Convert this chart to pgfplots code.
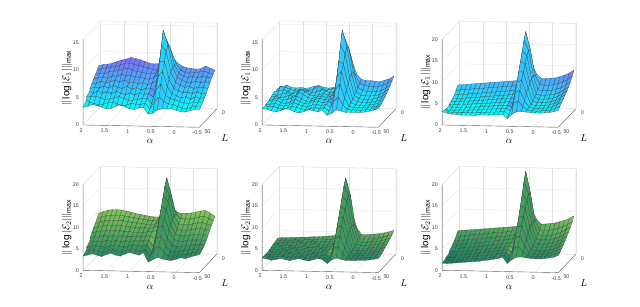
\documentclass[border=0pt]{standalone}
\usepackage{pgfplots}
\pgfplotsset{compat=1.18}
\usepackage{pgfplotstable}
\usepackage{fontspec}
\setmainfont{Liberation Sans}
\definecolor{axd}{gray}{0.4}
\definecolor{axl}{gray}{0.88}
\pgfplotsset{
  colormap={cl}{rgb255=(0,255,255); rgb255=(140,90,255)},
  colormap={gr}{rgb255=(20,125,100); rgb255=(135,205,85)},
}
\newcommand{\addxy}[1]{%
 \pgfplotstablecreatecol[expr={2-0.1*mod(\pgfplotstablerow,26)}]{x}#1%
 \pgfplotstablecreatecol[expr={5+5*floor(\pgfplotstablerow/26)}]{y}#1%
}
\pgfplotstableread[row sep=\\]{z\\%
7.8\\8.0\\8.1\\8.3\\8.6\\8.9\\9.1\\9.4\\9.2\\9.0\\8.7\\8.4\\8.3\\8.4\\9.2\\10.0\\9.5\\8.5\\8.0\\7.7\\7.6\\7.5\\7.6\\8.1\\7.7\\7.4\\%
7.2\\7.6\\7.7\\7.9\\8.0\\8.3\\8.6\\8.7\\8.5\\8.3\\8.0\\7.9\\7.6\\7.6\\8.6\\12.0\\11.0\\8.8\\7.6\\7.2\\7.1\\7.2\\7.3\\7.5\\7.2\\7.0\\%
6.8\\7.1\\7.0\\7.4\\7.5\\7.7\\7.9\\8.1\\7.7\\7.5\\7.4\\7.2\\7.3\\7.2\\8.2\\14.0\\12.2\\8.8\\7.4\\6.8\\6.6\\6.9\\6.6\\6.9\\6.7\\6.6\\%
6.3\\6.6\\6.7\\6.5\\7.0\\6.9\\7.3\\7.0\\7.1\\6.8\\6.9\\6.6\\6.5\\6.8\\7.6\\15.5\\12.8\\8.8\\7.0\\6.4\\6.1\\6.0\\6.3\\6.0\\6.3\\6.0\\%
5.8\\5.9\\6.3\\6.0\\6.3\\6.5\\6.2\\6.6\\6.1\\6.3\\6.0\\6.2\\5.8\\6.2\\6.6\\13.0\\12.0\\8.2\\6.4\\5.8\\5.5\\5.7\\5.3\\5.6\\5.5\\5.4\\%
5.3\\5.5\\5.4\\5.8\\5.4\\5.9\\5.6\\5.4\\5.8\\5.3\\5.6\\5.2\\5.5\\5.6\\5.2\\10.5\\10.5\\7.2\\5.6\\5.2\\4.8\\5.0\\4.7\\5.1\\4.7\\4.8\\%
4.9\\4.7\\5.2\\4.8\\5.1\\4.7\\5.2\\4.9\\4.6\\5.0\\4.6\\5.0\\4.7\\5.0\\4.2\\8.0\\9.0\\6.2\\5.0\\4.6\\4.2\\4.5\\4.0\\4.5\\4.2\\4.4\\%
4.4\\4.5\\4.6\\4.3\\4.0\\4.1\\4.4\\4.6\\4.3\\3.9\\4.0\\4.2\\4.3\\4.4\\3.4\\6.0\\7.0\\5.0\\4.4\\4.2\\3.9\\3.7\\3.6\\3.8\\3.9\\3.9\\%
3.9\\3.8\\3.6\\3.3\\3.5\\3.8\\3.9\\3.6\\3.3\\3.4\\3.8\\3.6\\3.5\\3.9\\2.8\\4.2\\5.0\\4.2\\3.8\\3.7\\3.3\\3.1\\3.0\\3.3\\3.5\\3.5\\%
3.2\\3.4\\3.7\\3.6\\3.3\\3.0\\3.1\\3.5\\3.8\\3.5\\3.1\\3.0\\3.3\\3.4\\2.2\\2.4\\3.0\\3.2\\3.2\\3.3\\3.0\\2.8\\2.7\\3.0\\3.2\\3.2\\%
}\tA
\pgfplotstableread[row sep=\\]{z\\%
3.6\\3.9\\4.3\\3.9\\3.8\\3.9\\3.8\\3.9\\4.2\\4.3\\4.0\\3.9\\4.0\\4.3\\5.0\\9.5\\9.0\\6.5\\5.6\\5.4\\5.4\\5.3\\5.2\\5.5\\5.8\\6.3\\%
3.5\\4.4\\4.2\\3.9\\3.6\\3.8\\4.0\\3.7\\3.9\\4.6\\4.0\\3.8\\4.1\\4.2\\5.0\\12.0\\10.5\\6.8\\5.2\\4.8\\4.7\\4.6\\4.7\\4.9\\5.3\\5.9\\%
3.7\\3.9\\4.1\\3.8\\3.4\\3.8\\4.2\\4.0\\3.6\\3.8\\4.2\\4.0\\3.7\\4.0\\4.8\\14.0\\12.0\\7.5\\4.8\\4.2\\4.1\\4.0\\4.1\\4.3\\4.7\\5.4\\%
3.6\\3.4\\3.6\\3.9\\3.6\\3.3\\4.5\\4.2\\3.6\\3.5\\3.7\\3.9\\3.6\\3.9\\4.6\\15.5\\12.5\\7.6\\4.4\\3.7\\3.6\\3.6\\3.7\\3.9\\4.3\\5.0\\%
3.4\\3.6\\3.3\\3.5\\3.8\\3.4\\4.3\\4.0\\3.4\\3.3\\3.6\\3.8\\3.5\\3.8\\4.2\\13.0\\11.5\\7.0\\4.0\\3.4\\3.3\\3.3\\3.4\\3.6\\4.0\\4.6\\%
3.2\\3.4\\3.6\\3.2\\3.4\\3.7\\4.0\\3.5\\3.1\\3.2\\3.5\\3.7\\3.4\\3.6\\3.8\\10.5\\10.0\\6.4\\3.6\\3.2\\3.1\\3.0\\3.2\\3.3\\3.7\\4.3\\%
3.1\\3.3\\3.5\\3.1\\2.9\\3.3\\3.8\\3.4\\3.0\\3.1\\3.4\\3.5\\3.2\\3.5\\3.2\\8.0\\9.0\\5.6\\3.3\\3.0\\2.9\\2.9\\3.0\\3.1\\3.4\\4.0\\%
3.0\\3.1\\3.3\\3.0\\2.8\\3.0\\3.5\\3.2\\2.9\\2.8\\3.1\\3.3\\3.0\\3.3\\2.7\\6.0\\7.0\\4.5\\3.0\\2.8\\2.8\\2.8\\2.9\\3.0\\3.2\\3.7\\%
2.9\\3.0\\3.1\\2.8\\2.6\\2.8\\3.1\\3.0\\2.7\\2.6\\2.8\\3.0\\2.8\\3.1\\2.4\\4.2\\5.0\\3.6\\2.8\\2.7\\2.7\\2.7\\2.8\\2.9\\3.1\\3.5\\%
2.9\\2.9\\2.6\\2.4\\2.7\\3.0\\2.9\\2.5\\2.3\\2.6\\2.9\\2.8\\2.6\\2.9\\2.0\\2.4\\3.0\\2.8\\2.6\\2.6\\2.6\\2.6\\2.7\\2.9\\3.1\\3.4\\%
}\tB
\pgfplotstableread[row sep=\\]{z\\%
5.5\\5.6\\5.7\\5.8\\5.9\\6.0\\6.1\\6.2\\6.3\\6.4\\6.5\\6.6\\6.7\\6.9\\7.6\\11.0\\10.5\\8.4\\7.4\\7.4\\7.5\\7.6\\7.9\\8.3\\8.8\\9.5\\%
4.6\\4.8\\4.9\\5.0\\5.1\\5.2\\5.3\\5.4\\5.5\\5.6\\5.7\\5.8\\5.9\\6.1\\7.0\\18.7\\14.5\\8.5\\6.4\\6.2\\6.3\\6.4\\6.7\\7.1\\7.7\\8.5\\%
4.0\\4.1\\4.2\\4.3\\4.4\\4.5\\4.6\\4.7\\4.8\\4.9\\5.0\\5.1\\5.2\\5.4\\6.2\\17.0\\14.8\\8.8\\5.6\\5.4\\5.4\\5.5\\5.8\\6.2\\6.8\\7.6\\%
3.6\\3.6\\3.7\\3.8\\3.9\\4.0\\4.1\\4.2\\4.3\\4.4\\4.5\\4.6\\4.7\\4.9\\5.5\\15.0\\14.0\\8.6\\5.0\\4.8\\4.8\\4.9\\5.1\\5.5\\6.1\\6.9\\%
3.3\\3.3\\3.4\\3.5\\3.5\\3.6\\3.7\\3.8\\3.9\\4.0\\4.1\\4.2\\4.3\\4.4\\4.6\\13.0\\12.5\\8.0\\4.6\\4.3\\4.3\\4.4\\4.6\\5.0\\5.6\\6.4\\%
3.0\\3.0\\3.1\\3.1\\3.2\\3.3\\3.4\\3.4\\3.5\\3.6\\3.7\\3.8\\3.9\\4.0\\3.6\\11.0\\11.0\\7.2\\4.2\\3.9\\3.9\\4.0\\4.2\\4.6\\5.2\\5.9\\%
2.8\\2.8\\2.8\\2.9\\2.9\\3.0\\3.0\\3.1\\3.2\\3.3\\3.4\\3.5\\3.5\\3.6\\3.0\\9.0\\9.5\\6.4\\3.9\\3.6\\3.6\\3.7\\3.9\\4.2\\4.8\\5.4\\%
2.7\\2.6\\2.6\\2.7\\2.7\\2.7\\2.8\\2.8\\2.9\\3.0\\3.1\\3.1\\3.2\\3.3\\2.6\\7.0\\7.5\\5.2\\3.7\\3.4\\3.4\\3.5\\3.6\\3.9\\4.4\\5.0\\%
2.8\\2.6\\2.5\\2.5\\2.5\\2.5\\2.6\\2.6\\2.6\\2.7\\2.8\\2.8\\2.9\\3.0\\2.2\\5.0\\5.5\\4.2\\3.5\\3.3\\3.2\\3.3\\3.4\\3.6\\4.0\\4.5\\%
3.1\\2.8\\2.6\\2.5\\2.4\\2.4\\2.4\\2.4\\2.5\\2.5\\2.5\\2.6\\2.6\\2.7\\1.8\\2.8\\3.4\\3.5\\3.4\\3.3\\3.2\\3.2\\3.3\\3.4\\3.6\\4.0\\%
}\tC
\pgfplotstableread[row sep=\\]{z\\%
9.5\\9.9\\10.2\\10.4\\10.4\\10.3\\10.1\\9.9\\9.6\\9.4\\9.2\\9.0\\8.9\\8.9\\9.5\\12.0\\11.0\\10.0\\9.8\\9.9\\10.0\\10.2\\10.5\\10.6\\10.0\\9.3\\%
8.6\\9.1\\9.4\\9.4\\9.6\\9.5\\9.4\\9.2\\9.0\\8.8\\8.7\\8.5\\8.4\\8.5\\9.5\\18.5\\14.5\\10.0\\9.0\\9.0\\9.0\\9.2\\9.5\\9.7\\9.2\\8.7\\%
7.9\\8.3\\8.6\\8.7\\8.8\\8.7\\8.7\\8.5\\8.4\\8.3\\8.1\\8.0\\8.0\\8.1\\9.0\\17.0\\14.8\\10.0\\8.2\\8.1\\8.0\\8.3\\8.5\\8.7\\8.3\\8.0\\%
7.3\\7.6\\7.8\\8.0\\8.0\\8.1\\7.9\\7.9\\7.7\\7.7\\7.5\\7.6\\7.5\\7.7\\8.4\\15.0\\14.0\\9.6\\7.5\\7.2\\7.2\\7.4\\7.6\\7.7\\7.5\\7.3\\%
6.6\\6.9\\7.1\\7.1\\7.3\\7.2\\7.3\\7.0\\7.1\\6.9\\7.0\\6.9\\7.1\\7.2\\7.4\\13.0\\12.5\\8.8\\6.7\\6.3\\6.4\\6.5\\6.7\\6.8\\6.7\\6.5\\%
5.9\\6.2\\6.2\\6.5\\6.3\\6.5\\6.4\\6.5\\6.3\\6.3\\6.5\\6.3\\6.6\\6.6\\5.9\\11.0\\11.0\\8.0\\5.9\\5.5\\5.5\\5.7\\5.8\\5.9\\5.9\\5.8\\%
5.2\\5.5\\5.6\\5.4\\5.8\\5.5\\5.8\\5.5\\5.8\\5.6\\5.9\\5.7\\6.0\\6.0\\4.6\\9.0\\9.5\\6.6\\5.0\\4.6\\4.7\\4.9\\5.1\\5.1\\5.2\\5.2\\%
4.5\\4.8\\5.0\\4.8\\4.6\\4.9\\5.2\\5.0\\4.7\\5.0\\5.3\\5.2\\5.0\\5.4\\3.6\\7.0\\7.5\\5.2\\4.0\\3.8\\3.9\\4.3\\4.4\\4.6\\4.6\\4.7\\%
3.9\\4.2\\4.4\\4.1\\3.9\\4.3\\4.6\\4.2\\4.0\\4.4\\4.8\\4.5\\4.3\\4.8\\3.0\\5.0\\5.5\\4.0\\3.3\\3.2\\3.5\\3.8\\3.8\\4.1\\4.2\\4.4\\%
3.3\\3.6\\3.9\\3.6\\3.3\\3.8\\4.1\\3.7\\3.5\\4.0\\4.4\\4.1\\3.8\\4.4\\2.2\\2.8\\3.4\\3.0\\2.8\\2.7\\3.0\\3.4\\3.2\\3.6\\3.9\\4.2\\%
}\tD
\pgfplotstableread[row sep=\\]{z\\%
3.7\\3.8\\3.8\\3.9\\3.9\\4.0\\4.0\\4.1\\4.2\\4.2\\4.3\\4.4\\4.5\\4.6\\5.2\\11.0\\10.0\\6.5\\4.9\\4.9\\5.0\\5.1\\5.2\\5.4\\5.7\\6.0\\%
3.5\\3.6\\3.7\\3.6\\3.8\\3.7\\3.8\\3.9\\3.8\\4.0\\4.0\\4.1\\4.1\\4.3\\5.0\\18.4\\14.5\\7.5\\4.5\\4.4\\4.4\\4.5\\4.6\\4.8\\5.1\\5.5\\%
3.4\\3.3\\3.6\\3.7\\3.5\\3.9\\3.7\\3.6\\3.9\\3.8\\3.8\\3.9\\3.9\\4.1\\4.8\\17.0\\14.8\\8.0\\4.2\\4.0\\4.0\\4.1\\4.2\\4.4\\4.7\\5.1\\%
3.3\\3.5\\3.2\\3.7\\3.3\\3.4\\4.0\\3.6\\3.4\\4.0\\3.6\\3.5\\3.8\\3.9\\4.4\\15.0\\14.0\\8.0\\3.9\\3.7\\3.7\\3.8\\3.9\\4.1\\4.4\\4.8\\%
3.1\\3.2\\3.5\\3.1\\3.5\\3.2\\3.3\\3.8\\3.3\\3.3\\3.8\\3.3\\3.5\\3.7\\3.9\\13.0\\12.5\\7.6\\3.6\\3.4\\3.4\\3.5\\3.6\\3.8\\4.1\\4.5\\%
3.0\\3.3\\3.1\\3.4\\3.0\\3.6\\3.2\\3.1\\3.7\\3.1\\3.2\\3.6\\3.3\\3.5\\3.2\\11.0\\11.0\\7.0\\3.4\\3.2\\3.2\\3.3\\3.4\\3.6\\3.8\\4.2\\%
2.9\\2.9\\3.2\\3.0\\3.3\\2.9\\3.5\\3.0\\3.0\\3.5\\3.0\\3.0\\3.4\\3.3\\2.8\\9.0\\9.5\\6.0\\3.2\\3.0\\3.0\\3.1\\3.2\\3.4\\3.6\\3.9\\%
2.9\\2.7\\2.9\\3.1\\2.8\\3.2\\2.9\\3.3\\2.8\\2.9\\3.3\\2.9\\2.9\\3.1\\2.5\\7.0\\7.5\\4.8\\3.0\\2.9\\2.9\\3.0\\3.1\\3.2\\3.4\\3.6\\%
2.9\\2.8\\2.6\\2.9\\3.0\\2.7\\3.0\\2.8\\3.1\\2.7\\2.8\\3.1\\2.7\\2.9\\2.2\\5.0\\5.5\\3.6\\2.9\\2.8\\2.8\\2.9\\2.9\\3.0\\3.2\\3.4\\%
2.9\\2.7\\2.4\\2.6\\2.9\\2.6\\2.4\\2.7\\2.9\\2.6\\2.4\\2.7\\3.0\\2.8\\1.9\\2.8\\3.2\\2.9\\2.7\\2.7\\2.7\\2.8\\2.8\\2.9\\3.1\\3.3\\%
}\tE
\pgfplotstableread[row sep=\\]{z\\%
5.4\\5.5\\5.6\\5.7\\5.8\\5.9\\6.0\\6.1\\6.2\\6.3\\6.4\\6.5\\6.6\\6.8\\7.4\\11.0\\10.5\\8.4\\7.3\\7.4\\7.5\\7.7\\8.0\\8.3\\8.8\\9.4\\%
4.5\\4.6\\4.7\\4.9\\5.0\\5.1\\5.2\\5.3\\5.5\\5.6\\5.7\\5.8\\6.0\\6.2\\7.0\\20.0\\15.0\\8.5\\6.4\\6.3\\6.4\\6.6\\6.9\\7.3\\7.8\\8.5\\%
3.9\\4.0\\4.1\\4.2\\4.3\\4.5\\4.6\\4.7\\4.8\\5.0\\5.1\\5.2\\5.4\\5.6\\6.4\\18.0\\15.2\\8.8\\5.7\\5.5\\5.6\\5.7\\6.0\\6.4\\7.0\\7.7\\%
3.4\\3.5\\3.6\\3.7\\3.8\\3.9\\4.0\\4.2\\4.3\\4.4\\4.6\\4.7\\4.9\\5.1\\5.7\\15.5\\14.2\\8.6\\5.1\\4.9\\5.0\\5.1\\5.3\\5.7\\6.3\\7.0\\%
3.0\\3.0\\3.1\\3.2\\3.3\\3.4\\3.6\\3.7\\3.8\\4.0\\4.1\\4.3\\4.4\\4.6\\4.8\\13.2\\12.8\\8.2\\4.6\\4.4\\4.4\\4.5\\4.8\\5.1\\5.7\\6.4\\%
2.6\\2.6\\2.7\\2.8\\2.9\\3.0\\3.2\\3.3\\3.4\\3.6\\3.7\\3.9\\4.0\\4.2\\3.8\\11.0\\11.2\\7.4\\4.2\\4.0\\4.0\\4.1\\4.3\\4.6\\5.2\\5.8\\%
2.3\\2.3\\2.4\\2.5\\2.6\\2.7\\2.8\\3.0\\3.1\\3.2\\3.4\\3.5\\3.7\\3.9\\3.1\\9.0\\9.5\\6.4\\3.9\\3.7\\3.6\\3.7\\3.9\\4.2\\4.7\\5.3\\%
2.0\\2.1\\2.1\\2.2\\2.3\\2.4\\2.5\\2.7\\2.8\\2.9\\3.1\\3.2\\3.4\\3.6\\2.7\\7.0\\7.5\\5.2\\3.6\\3.4\\3.3\\3.4\\3.6\\3.9\\4.3\\4.8\\%
1.8\\1.8\\1.9\\2.0\\2.1\\2.2\\2.3\\2.4\\2.5\\2.7\\2.8\\3.0\\3.1\\3.3\\2.4\\5.0\\5.5\\4.2\\3.4\\3.2\\3.1\\3.2\\3.4\\3.6\\3.9\\4.4\\%
1.7\\1.6\\1.7\\1.8\\1.9\\2.0\\2.1\\2.2\\2.3\\2.5\\2.6\\2.8\\3.0\\3.4\\1.9\\2.8\\3.4\\3.5\\3.3\\3.2\\3.1\\3.1\\3.2\\3.4\\3.6\\4.0\\%
}\tF
\addxy\tA\addxy\tB\addxy\tC\addxy\tD\addxy\tE\addxy\tF
% #1,#2 origin (alpha=0,L=0,z=0); #3 z unit; #4 zmax; #5 table; #6 colormap; #7 ridge colour value; #8,#9 colour range
\newcommand{\panel}[9]{%
\begin{axis}[
  at={(#1bp,#2bp)},anchor=origin,
  x={(-46.5bp,0.92bp)},y={(-0.348bp,-0.366bp)},z={(0bp,#3bp)},
  xmin=-0.5,xmax=2,ymin=0,ymax=50,zmin=0,zmax=#4,
  clip=false,
  axis line style={draw=none},
  grid=major,grid style={axl,line width=0.3pt},
  xtick={-0.5,0,0.5,1,1.5,2},xticklabels={-0.5,0,0.5,1,1.5,2},
  ytick={0,50},yticklabels={0,50},
  ztick={0,5,10,15,20},zticklabels={0,5,10,15,20},
  major tick length=0pt,
  tick label style={font=\fontsize{5.4}{6}\selectfont,text=black!75,inner sep=0pt},
  xticklabel style={anchor=north,xshift=-2bp,yshift=-3.5bp},
  yticklabel style={anchor=west,xshift=5bp,yshift=-4bp},
  zticklabel style={anchor=east,xshift=-4bp},
  /pgf/number format/assume math mode=true,
  xlabel={$\alpha$},ylabel={$L$},zlabel={$\|\log|\mathcal{E}_{\Idx}|\|_{\max}$},
  label style={font=\fontsize{7.4}{8}\selectfont,text=black!75},
  every axis x label/.style={at={(axis cs:0.56,50,{-15.4/#3})},anchor=center},
  every axis y label/.style={at={(axis cs:-1.05,50,{-10.2/#3})},anchor=center},
  every axis z label/.style={at={(axis cs:2.35,50,\Zl)},rotate=90,anchor=center},
  colormap name=#6,point meta=explicit,point meta min=#8,point meta max=#9,
]
\addplot3[forget plot,axl,line width=0.3pt,no marks] coordinates {(2,50,#4)(2,0,#4)(-0.5,0,#4)(-0.5,0,0)(2,0,0)(2,50,0)};
\addplot3[forget plot,axl,line width=0.3pt,no marks] coordinates {(2,0,0)(2,0,#4)};
\addplot3[forget plot,axd,line width=0.4pt,no marks] coordinates {(2,50,#4)(2,50,0)(-0.5,50,0)(-0.5,0,0)};
\addplot3[surf,shader=faceted,faceted color=black!75,line width=0.2pt,mesh/rows=10,mesh/cols=26,z buffer=none]
 table[x=x,y=y,z=z,
   meta expr={ifthenelse(abs(\thisrow{x}-0.4)<0.16,#7,ifthenelse(abs(\thisrow{x}-0.6)<0.02&&abs(\thisrow{y}-32.5)<3,#9,\thisrow{z}))}]{#5};
\end{axis}}
\begin{document}
\begin{tikzpicture}
\path[use as bounding box] (0,0) rectangle (640bp,307bp);
\def\Idx{1}\def\Zl{8.5}
\panel{193.45}{198.5}{5.5}{15.6}{\tA}{cl}{5}{3}{10}
\panel{372.45}{198.5}{5.5}{15.6}{\tB}{cl}{4.3}{2.5}{8}
\def\Zl{9.95}
\panel{552.45}{198.5}{4.28}{20}{\tC}{cl}{5.5}{2.5}{11}
\def\Idx{2}
\panel{193.45}{53.15}{4.28}{20}{\tD}{gr}{5.2}{2}{11}
\panel{372.45}{53.15}{4.28}{20}{\tE}{gr}{3.8}{2}{7}
\panel{552.45}{53.15}{4.28}{20}{\tF}{gr}{4.8}{1.5}{10}
\end{tikzpicture}
\end{document}
